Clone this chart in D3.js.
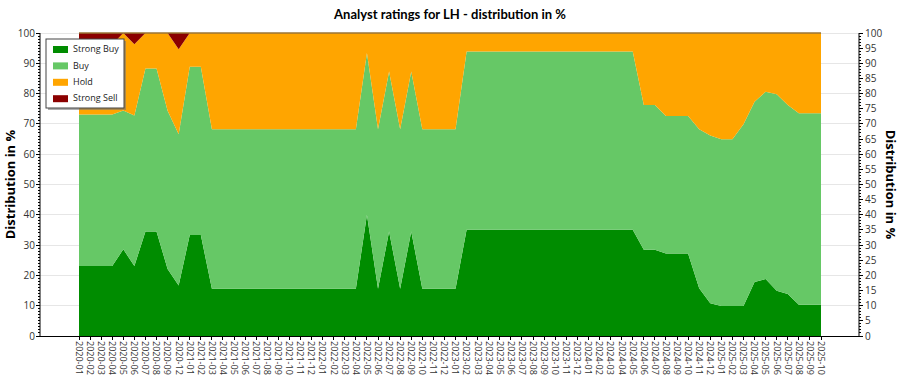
<!DOCTYPE html>
<html><head><meta charset="utf-8">
<script src="https://cdn.jsdelivr.net/npm/d3@7"></script>
<style>
body{margin:0;background:#fff;}
svg{display:block;font-family:"Open Sans","Noto Sans",sans-serif;}
</style></head>
<body><svg id="c" width="900" height="375"></svg>
<script>
const categories = ["2020-01","2020-02","2020-03","2020-04","2020-05","2020-06","2020-07","2020-08","2020-09","2020-12",
"2021-01","2021-02","2021-03","2021-04","2021-05","2021-06","2021-07","2021-08","2021-09","2021-10","2021-11","2021-12",
"2022-01","2022-02","2022-03","2022-04","2022-05","2022-06","2022-07","2022-08","2022-09","2022-10","2022-11","2022-12",
"2023-01","2023-02","2023-03","2023-04","2023-05","2023-06","2023-07","2023-08","2023-09","2023-10","2023-11","2023-12",
"2024-01","2024-02","2024-03","2024-04","2024-05","2024-06","2024-07","2024-08","2024-09","2024-10","2024-11","2024-12",
"2025-01","2025-02","2025-03","2025-04","2025-05","2025-06","2025-07","2025-08","2025-09","2025-10"];

const strongBuy = [23.1,23.1,23.1,23.1,28.6,23.1,34.5,34.5,22.1,16.7,
33.3,33.3,15.6,15.6,15.6,15.6,15.6,15.6,15.6,15.6,15.6,15.6,
15.6,15.6,15.6,15.6,40.0,15.6,34.5,15.6,34.5,15.6,15.6,15.6,
15.6,35.1,35.1,35.1,35.1,35.1,35.1,35.1,35.1,35.1,35.1,35.1,
35.1,35.1,35.1,35.1,35.1,28.5,28.5,27.2,27.2,27.2,15.8,10.8,
9.9,9.9,9.9,17.8,18.8,14.9,13.9,10.3,10.3,10.3];

const buy = [50.0,50.0,50.0,50.0,45.8,49.7,53.8,53.8,52.2,49.9,
55.6,55.6,52.6,52.6,52.6,52.6,52.6,52.6,52.6,52.6,52.6,52.6,
52.6,52.6,52.6,52.6,53.4,52.6,52.8,52.6,52.8,52.6,52.6,52.6,
52.6,58.8,58.8,58.8,58.8,58.8,58.8,58.8,58.8,58.8,58.8,58.8,
58.8,58.8,58.8,58.8,58.8,47.7,47.7,45.4,45.4,45.4,52.4,55.4,
55.0,55.0,60.0,59.5,61.8,64.9,62.3,63.2,63.2,63.2];

const hold = [23.1,23.1,23.1,23.1,25.6,23.5,11.7,11.7,25.7,28.0,
11.1,11.1,31.8,31.8,31.8,31.8,31.8,31.8,31.8,31.8,31.8,31.8,
31.8,31.8,31.8,31.8,6.6,31.8,12.7,31.8,12.7,31.8,31.8,31.8,
31.8,6.1,6.1,6.1,6.1,6.1,6.1,6.1,6.1,6.1,6.1,6.1,
6.1,6.1,6.1,6.1,6.1,23.8,23.8,27.4,27.4,27.4,31.8,33.8,
35.1,35.1,30.1,22.7,19.4,20.2,23.8,26.5,26.5,26.5];

const strongSell = [3.8,3.8,3.8,3.8,0,3.7,0,0,0,5.4,
0,0,0,0,0,0,0,0,0,0,0,0,
0,0,0,0,0,0,0,0,0,0,0,0,
0,0,0,0,0,0,0,0,0,0,0,0,
0,0,0,0,0,0,0,0,0,0,0,0,
0,0,0,0,0,0,0,0,0,0];

const seriesNames = ["Strong Buy","Buy","Hold","Strong Sell"];
const seriesColors = ["#008c00","#66c866","#ffa500","#8b0000"];
const leftTicks = [0,10,20,30,40,50,60,70,80,90,100];
const rightTicks = [0,5,10,15,20,25,30,35,40,45,50,55,60,65,70,75,80,85,90,95,100];
const title = "Analyst ratings for LH - distribution in %";
const yTitle = "Distribution in %";

const svg = d3.select("#c");
const L = 40, R = 859, T = 33, B = 336;
const x = d3.scalePoint().domain(categories).range([79, 821]);
const y = d3.scaleLinear().domain([0, 100]).range([B, T]);

const table = categories.map((c, i) => ({cat: c, "Strong Buy": strongBuy[i], "Buy": buy[i], "Hold": hold[i], "Strong Sell": strongSell[i]}));
const stacked = d3.stack().keys(seriesNames)(table);

// gridlines
svg.append("g").selectAll("line").data(leftTicks.filter(t => t > 0)).join("line")
  .attr("x1", L).attr("x2", R).attr("y1", d => y(d)).attr("y2", d => y(d))
  .attr("stroke", "#e6e6e6").attr("stroke-width", 1).attr("shape-rendering", "crispEdges");

// areas
const area = d3.area().x(d => x(d.data.cat)).y0(d => y(d[0])).y1(d => y(d[1]));
svg.append("g").selectAll("path").data(stacked).join("path")
  .attr("d", area).attr("fill", (d, i) => seriesColors[i]);

// top edge line of the stack
svg.append("path").datum(stacked[3])
  .attr("d", d3.line().x(d => x(d.data.cat)).y(d => y(d[1])))
  .attr("fill", "none").attr("stroke", "#9a7436").attr("stroke-width", 1.5);

// axes
const ax = svg.append("g").attr("font-size", 10).attr("fill", "#333");
// left axis
ax.append("line").attr("x1", L).attr("x2", L).attr("y1", T).attr("y2", B).attr("stroke", "#000");
ax.append("g").selectAll("line").data(d3.range(0, 101, 1)).join("line")
  .attr("x1", L).attr("x2", d => d % 10 === 0 ? L - 4 : L - 2)
  .attr("y1", d => y(d)).attr("y2", d => y(d)).attr("stroke", "#000").attr("shape-rendering", "crispEdges");
ax.append("g").selectAll("text").data(leftTicks).join("text")
  .attr("x", L - 5).attr("y", d => y(d)).attr("dy", "0.35em").attr("text-anchor", "end")
  .attr("fill", "#333").text(d => d);
// right axis
ax.append("line").attr("x1", R).attr("x2", R).attr("y1", T).attr("y2", B).attr("stroke", "#000");
ax.append("g").selectAll("line").data(d3.range(0, 101, 1)).join("line")
  .attr("x1", R).attr("x2", d => d % 5 === 0 ? R + 4 : R + 2)
  .attr("y1", d => y(d)).attr("y2", d => y(d)).attr("stroke", "#000").attr("shape-rendering", "crispEdges");
ax.append("g").selectAll("text").data(rightTicks).join("text")
  .attr("x", R + 6).attr("y", d => y(d)).attr("dy", "0.35em").attr("text-anchor", "start")
  .attr("fill", "#333").text(d => d);
// bottom axis
ax.append("line").attr("x1", L).attr("x2", R).attr("y1", B + 0.5).attr("y2", B + 0.5).attr("stroke", "#000");
ax.append("g").selectAll("line").data(categories).join("line")
  .attr("x1", d => x(d)).attr("x2", d => x(d)).attr("y1", B).attr("y2", B + 4)
  .attr("stroke", "#000").attr("shape-rendering", "crispEdges");
ax.append("g").selectAll("text").data(categories).join("text")
  .attr("transform", d => `translate(${x(d)},${B + 5}) rotate(90)`)
  .attr("dy", "0.35em").attr("font-size", 9).attr("fill", "#333").text(d => d);

// titles
svg.append("text").attr("x", 450).attr("y", 19).attr("text-anchor", "middle")
  .attr("font-family", "Lato, 'Open Sans', sans-serif")
  .attr("font-size", 13).attr("font-weight", "bold").attr("fill", "#000").text(title);
svg.append("text").attr("transform", `translate(15,${(T + B) / 2}) rotate(-90)`).attr("text-anchor", "middle")
  .attr("font-size", 13).attr("font-weight", "bold").attr("fill", "#000").text(yTitle);
svg.append("text").attr("transform", `translate(886,${(T + B) / 2}) rotate(90)`).attr("text-anchor", "middle")
  .attr("font-size", 13).attr("font-weight", "bold").attr("fill", "#000").text(yTitle);

// legend
const lg = svg.append("g");
lg.append("rect").attr("x", 48).attr("y", 41).attr("width", 78).attr("height", 69).attr("fill", "#777").attr("opacity", 0.6);
lg.append("rect").attr("x", 46).attr("y", 39).attr("width", 78).attr("height", 69)
  .attr("fill", "#fff").attr("stroke", "#444").attr("stroke-width", 1);
const items = lg.selectAll("g.it").data(seriesNames).join("g").attr("class", "it")
  .attr("transform", (d, i) => `translate(53,${49 + i * 16.4})`);
items.append("rect").attr("x", 0).attr("y", -3).attr("width", 15).attr("height", 7).attr("fill", (d, i) => seriesColors[i]);
items.append("text").attr("x", 20).attr("y", 0).attr("dy", "0.35em").attr("font-size", 9).attr("fill", "#222").text(d => d);
</script></body></html>
